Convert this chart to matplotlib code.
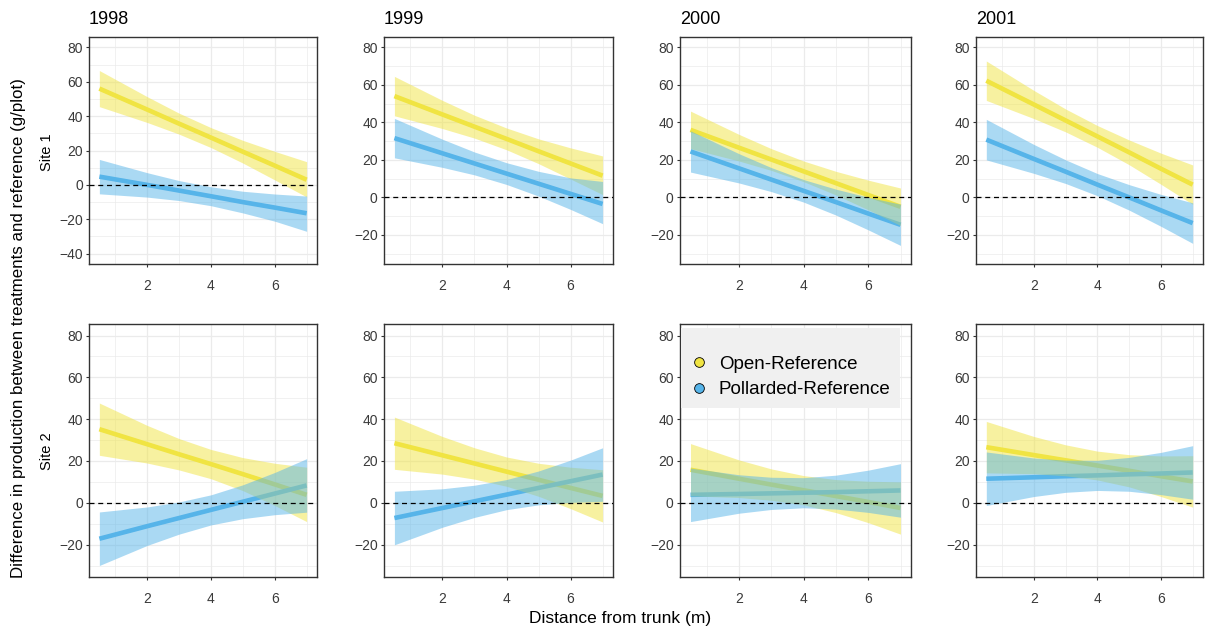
import numpy as np
import matplotlib
matplotlib.use("Agg")
import matplotlib.pyplot as plt
from matplotlib.lines import Line2D

plt.rcParams['font.family'] = ['Liberation Sans', 'DejaVu Sans']

# distance from trunk (m) where the fitted curves are read
dist = [0.5, 2, 3, 4, 5, 6, 7]
years = ['1998', '1999', '2000', '2001']
sites = ['Site 1', 'Site 2']

# Open-Reference, site 1 (one row per year)
open_fit_s1 = [
    [56.0, 43.8, 35.6, 27.5, 19.3, 11.2, 3.0],
    [54.0, 44.2, 37.7, 31.2, 24.6, 18.1, 11.6],
    [36.0, 26.5, 20.2, 13.9, 7.6, 1.3, -5.0],
    [62.2, 49.5, 41.0, 32.5, 24.0, 15.3, 6.8],
]
open_lo_s1 = [
    [45.5, 36.3, 29.5, 21.7, 12.7, 2.9, -7.0],
    [43.5, 36.7, 31.6, 25.4, 18.0, 9.8, 1.5],
    [26.0, 19.4, 14.4, 8.4, 1.3, -6.6, -15.0],
    [51.7, 42.0, 34.9, 26.7, 17.4, 7.0, -3.7],
]
open_hi_s1 = [
    [66.5, 51.3, 41.7, 33.3, 25.9, 19.5, 13.5],
    [64.5, 51.7, 43.8, 37.0, 31.2, 26.4, 22.1],
    [46.0, 33.6, 26.0, 19.4, 13.9, 9.2, 5.0],
    [72.7, 57.0, 47.1, 38.3, 30.6, 23.6, 17.3],
]
# Pollarded-Reference, site 1
poll_fit_s1 = [
    [4.8, 0.0, -3.3, -6.6, -10.0, -13.2, -16.5],
    [31.6, 23.5, 18.1, 12.7, 7.3, 1.9, -3.5],
    [24.5, 15.5, 9.5, 3.5, -2.5, -8.6, -14.6],
    [30.8, 20.5, 13.7, 6.8, 0.0, -6.9, -13.7],
]
poll_lo_s1 = [
    [-5.2, -7.1, -9.1, -12.1, -16.3, -21.1, -27.0],
    [21.1, 16.0, 12.0, 6.9, 0.7, -6.4, -14.0],
    [13.5, 7.7, 3.1, -2.5, -9.4, -17.3, -25.6],
    [20.0, 12.8, 7.4, 0.9, -6.8, -15.4, -24.5],
]
poll_hi_s1 = [
    [14.8, 7.1, 2.5, -1.1, -3.7, -5.3, -6.5],
    [42.1, 31.0, 24.2, 18.5, 13.9, 10.4, 8.5],
    [35.5, 23.3, 15.9, 9.5, 4.4, 0.1, -3.6],
    [41.6, 28.2, 20.0, 12.7, 6.8, 1.6, -2.9],
]

# Open-Reference, site 2
open_fit_s2 = [
    [35.2, 28.0, 23.2, 18.5, 13.7, 8.8, 3.8],
    [28.5, 22.7, 18.8, 14.9, 11.0, 7.1, 3.3],
    [15.8, 11.5, 8.7, 6.0, 3.2, 0.4, -2.5],
    [26.6, 22.8, 20.3, 17.8, 15.3, 12.7, 10.2],
]
open_lo_s2 = [
    [22.7, 19.0, 15.7, 11.5, 5.8, -1.3, -9.0],
    [16.0, 13.7, 11.3, 7.9, 3.1, -2.8, -9.2],
    [3.3, 2.5, 1.2, -1.0, -4.7, -9.5, -15.0],
    [14.3, 13.9, 12.9, 10.9, 7.6, 3.0, -2.1],
]
open_hi_s2 = [
    [47.7, 37.0, 30.7, 25.5, 21.6, 18.9, 17.0],
    [41.0, 31.7, 26.3, 21.9, 18.9, 17.0, 15.8],
    [28.3, 20.5, 16.2, 13.0, 11.1, 10.3, 10.0],
    [38.9, 31.7, 27.7, 24.7, 23.0, 22.4, 22.5],
]
# Pollarded-Reference, site 2
poll_fit_s2 = [
    [-17.2, -11.2, -7.3, -3.4, 0.5, 4.4, 8.3],
    [-7.3, -2.5, 0.7, 3.9, 7.1, 10.3, 13.5],
    [3.8, 4.2, 4.5, 4.8, 5.1, 5.5, 5.9],
    [11.5, 12.2, 12.7, 13.1, 13.6, 14.0, 14.5],
]
poll_lo_s2 = [
    [-30.0, -20.4, -15.0, -10.6, -7.6, -5.7, -4.5],
    [-20.1, -11.7, -7.0, -3.3, -1.0, 0.2, 0.7],
    [-9.0, -5.0, -3.2, -2.4, -3.0, -4.6, -6.9],
    [-1.3, 3.0, 5.0, 5.9, 5.5, 3.9, 1.7],
]
poll_hi_s2 = [
    [-4.4, -2.0, 0.4, 3.8, 8.6, 14.5, 21.1],
    [5.5, 6.7, 8.4, 11.1, 15.2, 20.4, 26.3],
    [16.6, 13.4, 12.2, 12.0, 13.2, 15.6, 18.7],
    [24.3, 21.4, 20.4, 20.3, 21.7, 24.1, 27.3],
]

col_open = '#F0E442'
col_poll = '#56B4E9'

# panel placement in pixels (figure is 1205 x 631)
W, H = 1205, 631
lefts = [89, 384, 680, 976]
rights = [317, 613, 911, 1203]
tops = [37, 324]
bottoms = [264, 577]

fig = plt.figure(figsize=(W / 100, H / 100), dpi=100)

data = [
    (open_fit_s1, open_lo_s1, open_hi_s1, poll_fit_s1, poll_lo_s1, poll_hi_s1),
    (open_fit_s2, open_lo_s2, open_hi_s2, poll_fit_s2, poll_lo_s2, poll_hi_s2),
]

for r in range(2):
    ofit, olo, ohi, pfit, plo, phi = data[r]
    for c in range(4):
        l, rt, t, b = lefts[c], rights[c], tops[r], bottoms[r]
        ax = fig.add_axes([l / W, 1 - b / H, (rt - l) / W, (b - t) / H])

        # lines first, ribbons on top (like the original)
        ax.plot(dist, ofit[c], color=col_open, lw=3.3, zorder=2, solid_capstyle='butt')
        ax.plot(dist, pfit[c], color=col_poll, lw=3.3, zorder=2, solid_capstyle='butt')
        ax.fill_between(dist, olo[c], ohi[c], color=col_open, alpha=0.5, lw=0, zorder=3)
        ax.fill_between(dist, plo[c], phi[c], color=col_poll, alpha=0.5, lw=0, zorder=3)
        ax.axhline(0, color='black', lw=0.9, ls=(0, (4, 3)), zorder=4)

        ax.set_xlim(0.175, 7.325)
        ax.set_xticks([2, 4, 6])
        ax.set_xticks([1, 3, 5, 7], minor=True)
        if r == 0 and c == 0:
            ax.set_ylim(-46, 86)
            ax.set_yticks(np.arange(-40, 81, 20))
            ax.set_yticks(np.arange(-30, 80, 20), minor=True)
        else:
            ax.set_ylim(-35.5, 85.5)
            ax.set_yticks(np.arange(-20, 81, 20))
            ax.set_yticks(np.arange(-30, 80, 20), minor=True)

        ax.grid(which='major', color='#EBEBEB', lw=0.9, zorder=0)
        ax.grid(which='minor', color='#EBEBEB', lw=0.5, zorder=0)
        ax.set_axisbelow(True)
        ax.tick_params(which='major', length=2.5, width=0.8, color='#333333',
                       labelcolor='#3A3A3A', labelsize=10)
        ax.tick_params(axis='x', pad=8.5)
        ax.tick_params(axis='y', pad=2)
        ax.tick_params(which='minor', length=0)
        for s in ax.spines.values():
            s.set_color('#333333')
            s.set_linewidth(1.0)

        if r == 0:
            ax.text(0, 1.04, years[c], transform=ax.transAxes, ha='left',
                    va='bottom', fontsize=13, color='black')

        if r == 1 and c == 2:
            handles = [
                Line2D([], [], marker='o', ls='none', markerfacecolor=col_open,
                       markeredgecolor='black', markeredgewidth=0.6, markersize=7),
                Line2D([], [], marker='o', ls='none', markerfacecolor=col_poll,
                       markeredgecolor='black', markeredgewidth=0.6, markersize=7),
            ]
            leg = ax.legend(handles, ['Open-Reference', 'Pollarded-Reference'],
                            loc='upper left', bbox_to_anchor=(0.005, 0.985),
                            fontsize=13.5, frameon=True, fancybox=False,
                            facecolor='#F0F0F0', edgecolor='none', framealpha=1,
                            handlelength=0.9, handletextpad=0.6, borderpad=0.5,
                            labelspacing=0.45, title=' ', title_fontsize=7,
                            borderaxespad=0)
            leg.set_zorder(10)

# site labels
fig.text(47 / W, 1 - 152 / H, sites[0], rotation=90, ha='center', va='center', fontsize=10.5)
fig.text(47 / W, 1 - 451 / H, sites[1], rotation=90, ha='center', va='center', fontsize=10.5)

# axis titles
fig.text(19 / W, 1 - 328 / H,
         'Difference in production between treatments and reference (g/plot)',
         rotation=90, ha='center', va='center', fontsize=12.2)
fig.text(620 / W, 1 - 619 / H, 'Distance from trunk (m)', ha='center',
         va='center', fontsize=12.5)

fig.savefig('out.png', dpi=100)
